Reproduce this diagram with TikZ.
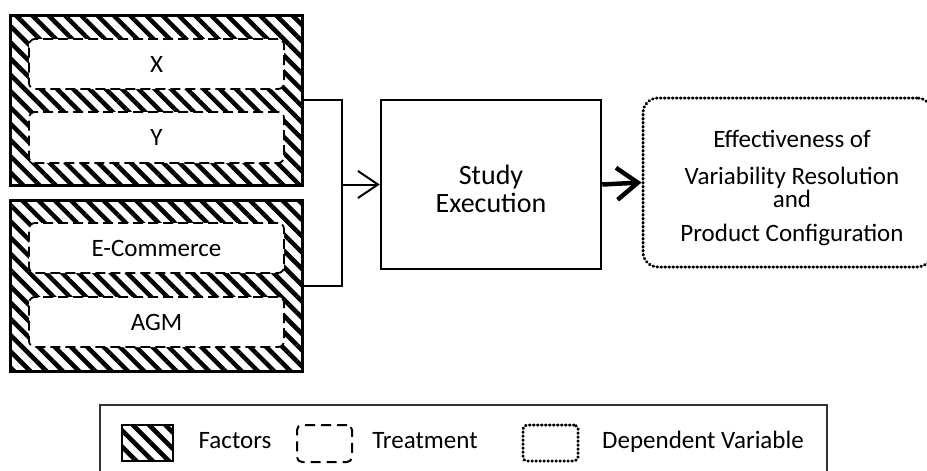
\documentclass[tikz,border=0pt]{standalone}
\usepackage{fontspec}
\setmainfont{Carlito}
\usetikzlibrary{arrows.meta,patterns.meta}
\tikzset{
  hatchfill/.style={pattern={Lines[angle=-45,distance=11.5pt,line width=4.5pt]}},
  factorbox/.style={draw, line width=3pt, hatchfill, minimum width=292pt, inner sep=0pt},
  treatbox/.style={draw, line width=1.8pt, dash pattern=on 10pt off 5pt, rounded corners=6pt,
    fill=white, minimum width=255pt, minimum height=50pt, inner sep=0pt,
    font=\fontsize{25}{30}\selectfont},
  studybox/.style={draw, line width=2.5pt, minimum width=220pt, minimum height=169pt,
    align=center, font=\fontsize{28}{29}\selectfont},
  dotline/.style={line width=3pt, dash pattern=on 0.6pt off 3.4pt, line cap=round},
  dvbox/.style={draw, dotline, rounded corners=15pt, minimum width=289pt, minimum height=169pt,
    align=center, font=\fontsize{25}{30}\selectfont},
  legendbox/.style={draw=black!80, line width=2pt, minimum width=727pt, minimum height=85pt},
  legendtext/.style={anchor=base, font=\fontsize{25}{30}\selectfont, inner sep=0pt},
  wire/.style={line width=2pt},
  arrowthin/.style={wire, -{Straight Barb[length=20pt,width=27pt]}},
  arrowthick/.style={line width=4.5pt, -{Straight Barb[length=21pt,width=32pt]}},
}
\begin{document}
\begin{tikzpicture}[x=1pt,y=-1pt]
\useasboundingbox (0,0) rectangle (927,471);
\clip (0,0) rectangle (927,471);
% factor boxes
\node[factorbox, minimum height=170pt] (f1) at (156,100) {};
\node[factorbox, minimum height=171pt] (f2) at (156,285.5) {};
% treatments
\node[treatbox] (tx) at (156.5,64) {X};
\node[treatbox, minimum height=51pt] (ty) at (156.5,137.5) {Y};
\node[treatbox] (te) at (156.5,248) {E-Commerce};
\node[treatbox] (ta) at (156.5,322) {AGM};
% study execution
\node[studybox] (study) at (491,184.5) {\raisebox{-8pt}[\height][\depth]{\begin{tabular}{@{}c@{}}Study\\[-1pt]Execution\end{tabular}}};
% dependent variable
\node[dvbox] (dv) at (787.5,182.5) {\hspace*{9pt}\raisebox{-6pt}[\height][\depth]{\begin{tabular}{@{}c@{}}Effectiveness of\\[7pt]Variability Resolution\\[-7pt]and\\[4pt]Product Configuration\end{tabular}}};
% connectors
\coordinate (bus) at (342,184.5);
\draw[wire] (f1.east) -| (bus) |- (f2.east);
\draw[arrowthin] (bus) -- (study.west);
\draw[arrowthick] (study.east) -- (dv.west);
% legend
\node[legendbox] (legend) at (463.5,447.5) {};
\node[draw, line width=2.5pt, hatchfill, minimum width=51pt, minimum height=36pt, inner sep=0pt] (lf) at (147.5,443) {};
\node[legendtext] (lft) at (235,448) {Factors};
\node[draw, line width=2pt, dash pattern=on 10pt off 6pt, rounded corners=5pt, minimum width=55pt, minimum height=37pt, inner sep=0pt] (lt) at (324.5,443.5) {};
\node[legendtext] (ltt) at (425,448) {Treatment};
\node[draw, dotline, rounded corners=4pt, minimum width=55pt, minimum height=36pt, inner sep=0pt] (ld) at (550.5,443) {};
\node[legendtext] (ldt) at (703,448) {Dependent Variable};
\end{tikzpicture}
\end{document}
